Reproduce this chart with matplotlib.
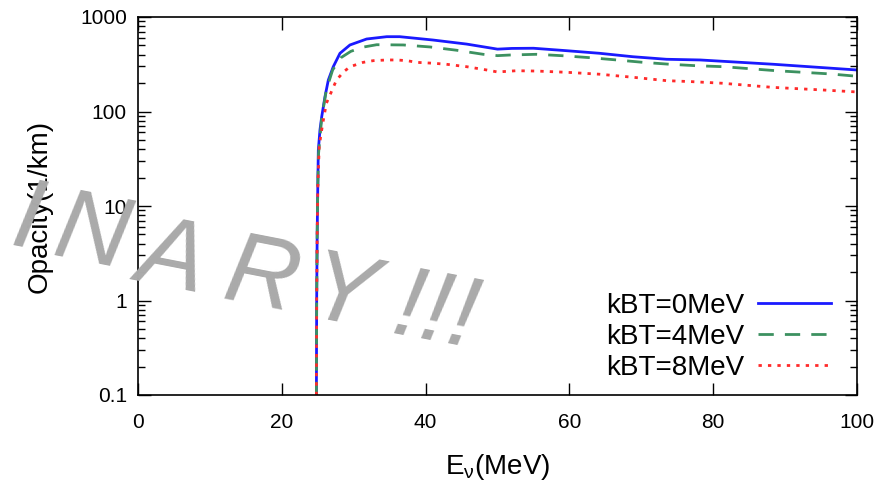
import matplotlib
matplotlib.use('Agg')
import matplotlib.pyplot as plt

# values (log scale opacity vs neutrino energy)
energy_0 = [24.8, 24.85, 24.92, 25.0, 25.08, 25.31, 25.55, 26.01, 26.47, 27.16, 28.09,
            29.48, 31.8, 34.6, 36.4, 41, 45.7, 50, 52, 55, 59.6, 64.2, 68.8, 73.5,
            78.2, 88.4, 100]
opacity_0 = [0.05, 1, 5, 15, 39, 64, 88, 144, 215, 298, 413,
             506, 585, 619, 619, 571, 517, 457, 465, 467, 440, 413, 380, 357,
             351, 316, 275]
energy_4 = [24.8, 24.85, 24.92, 25.0, 25.1, 25.55, 26.2, 27.07, 28.2, 29.6, 31.3, 33.2,
            36.9, 40.6, 44.3, 48.0, 50, 51.7, 55.4, 59.1, 62.9, 66.6, 70.3, 74, 77.7,
            81.4, 88.8, 96.2, 100]
opacity_4 = [0.05, 1, 5, 15, 35, 85, 170, 275, 370, 433, 480, 509,
             506, 482, 445, 403, 390, 396, 403, 389, 371, 351, 331, 316, 305,
             298, 270, 250, 236]
energy_8 = [24.8, 24.85, 24.92, 25.0, 25.2, 25.4, 25.7, 26.2, 26.9, 27.6, 28.6, 29.5,
            31.3, 32.7, 34.6, 36, 37.4, 38.8, 41.1, 42.9, 45.7, 48.5, 50, 52.6, 55.4,
            59.6, 64.2, 68.9, 73.5, 77, 81.3, 88.3, 95.2, 100]
opacity_8 = [0.05, 1, 5, 15, 42, 54, 75, 122, 162, 215, 263, 298,
             331, 345, 351, 351, 345, 331, 324, 316, 298, 275, 262, 270, 268,
             260, 248, 230, 212, 207, 199, 180, 169, 161]
labels = ['kBT=0MeV', 'kBT=4MeV', 'kBT=8MeV']
y_ticks = [0.1, 1, 10, 100, 1000]
y_ticklabels = ['0.1', '1', '10', '100', '1000']
x_ticks = [0, 20, 40, 60, 80, 100]

# watermark letters and their centres (figure pixels, from top-left)
mark_chars = ['I', 'N', 'A', 'R', 'Y', '!', '!', '!']
mark_x = [28, 92, 172, 262, 342, 408, 435, 462]
mark_y = [214, 228, 252, 272, 290, 302, 307, 312]

plt.rcParams['font.family'] = ['Liberation Sans', 'DejaVu Sans']
plt.rcParams['mathtext.fontset'] = 'custom'
plt.rcParams['mathtext.rm'] = 'Liberation Sans'

fig = plt.figure(figsize=(8.93, 4.83), dpi=100)
ax = fig.add_axes([138 / 893, 1 - 395 / 483, (857 - 138) / 893, (395 - 17) / 483])

ax.plot(energy_0, opacity_0, color='#1a1aff', lw=2, label=labels[0])
ax.plot(energy_4, opacity_4, color='#3c9160', lw=2, dashes=(5.5, 4), label=labels[1])
ax.plot(energy_8, opacity_8, color='#ff2a2a', lw=2, dashes=(1.2, 2.2), label=labels[2])

ax.set_yscale('log')
ax.set_xlim(0, 100)
ax.set_ylim(0.1, 1000)
ax.set_xticks(x_ticks)
ax.set_yticks(y_ticks)
ax.set_yticklabels(y_ticklabels)
ax.tick_params(which='major', direction='in', length=9, width=1, top=True, right=True,
               labelsize=15, pad=8)
ax.tick_params(axis='x', which='major', pad=13)
ax.tick_params(which='minor', direction='in', length=5, width=1, right=True)
ax.tick_params(axis='x', which='minor', bottom=False, top=False)
for sp in ax.spines.values():
    sp.set_linewidth(1.2)

ax.set_ylabel('Opacity(1/km)', fontsize=20, labelpad=20)
ax.set_xlabel(r'E$_\mathrm{ν}$(MeV)', fontsize=20, labelpad=14)

ax.legend(loc='lower right', bbox_to_anchor=(850 / 893, 1 - 400 / 483),
          bbox_transform=fig.transFigure, frameon=False, markerfirst=False,
          fontsize=20, handlelength=2.6, handletextpad=0.5, labelspacing=0.18,
          borderpad=0.2)

# watermark
for ch, px, py in zip(mark_chars, mark_x, mark_y):
    fig.text(px / 893, 1 - (py + 8) / 483, ch, fontsize=73, color='#aaaaaa',
             family='Liberation Sans', style='italic', rotation=-11,
             ha='center', va='center', rotation_mode='anchor', zorder=10)

fig.savefig('out.png', dpi=100)
